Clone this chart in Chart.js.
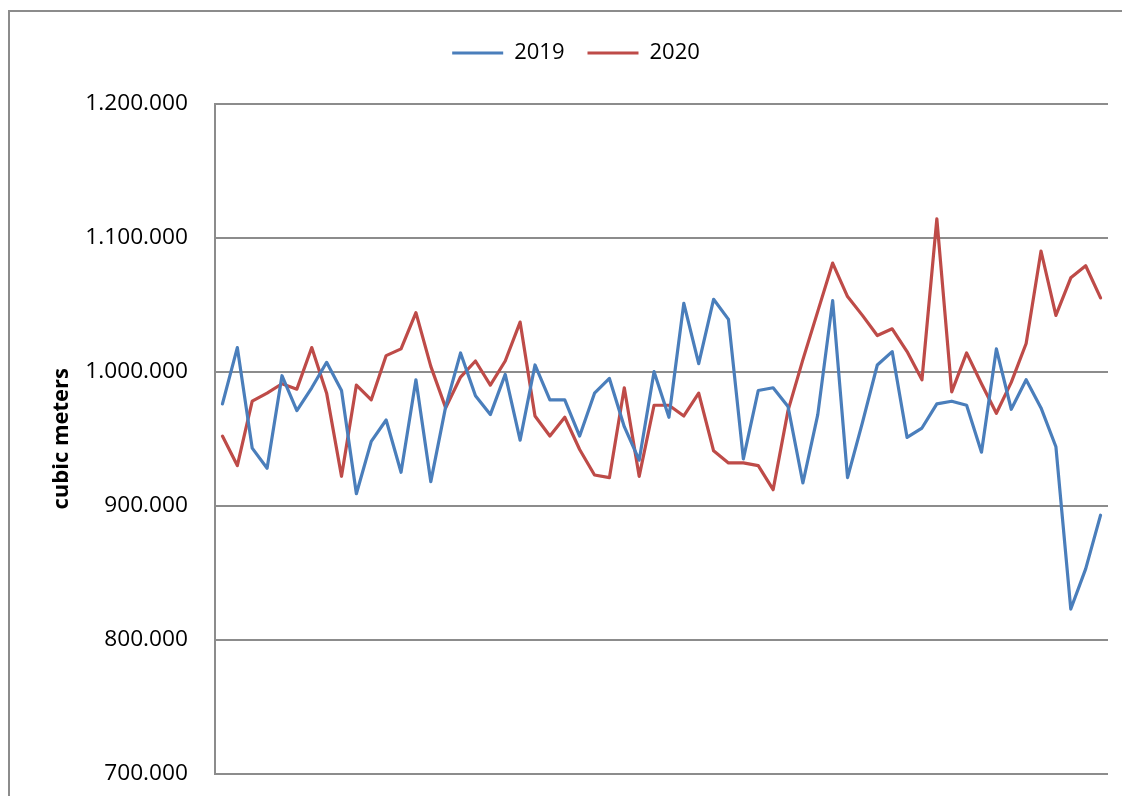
<!DOCTYPE html>
<html>
<head>
<meta charset="utf-8">
<script src="https://cdn.jsdelivr.net/npm/chart.js@4"></script>
<style>
  html, body { margin: 0; padding: 0; background: #ffffff; }
  #wrap { width: 1122px; height: 796px; position: relative; }
</style>
</head>
<body>
<div id="wrap"><canvas id="c" width="1122" height="796"></canvas></div>
<script>
const categories = ['1','2','3','4','5','6','7','8','9','10','11','12','13','14','15','16','17','18','19','20',
  '21','22','23','24','25','26','27','28','29','30','31','32','33','34','35','36','37','38','39','40',
  '41','42','43','44','45','46','47','48','49','50','51','52','53','54','55','56','57','58','59','60'];

const series2019 = [976000,1018000,943000,928000,997000,971000,988000,1007000,986000,909000,
  948000,964000,925000,994000,918000,974000,1014000,982000,968000,998000,
  949000,1005000,979000,979000,952000,984000,995000,959000,934000,1000000,
  966000,1051000,1006000,1054000,1039000,935000,986000,988000,974000,917000,
  968000,1053000,921000,962000,1005000,1015000,951000,958000,976000,978000,
  975000,940000,1017000,972000,994000,973000,944000,823000,853000,893000];

const series2020 = [952000,930000,978000,984000,991000,987000,1018000,984000,922000,990000,
  979000,1012000,1017000,1044000,1004000,973000,996000,1008000,990000,1008000,
  1037000,967000,952000,966000,942000,923000,921000,988000,922000,975000,
  975000,967000,984000,941000,932000,932000,930000,912000,971000,1009000,
  1045000,1081000,1056000,1042000,1027000,1032000,1015000,994000,1114000,985000,
  1014000,991000,969000,992000,1021000,1090000,1042000,1070000,1079000,1055000];

const seriesNames = ['2019', '2020'];
const yTicks = [700000, 800000, 900000, 1000000, 1100000, 1200000];
const yTitle = 'cubic meters';

function fmt(v) {
  return String(Math.round(v)).replace(/\B(?=(\d{3})+(?!\d))/g, '.');
}

const FONT = "'Open Sans', 'Noto Sans', sans-serif";
const GRID = '#8c8c8c';

const frame = {
  id: 'frame',
  beforeDraw(chart) {
    const ctx = chart.ctx;
    ctx.save();
    ctx.strokeStyle = GRID;
    ctx.lineWidth = 2;
    ctx.strokeRect(9, 11, 1300, 1000);
    ctx.restore();
  }
};

new Chart(document.getElementById('c'), {
  type: 'line',
  data: {
    labels: categories,
    datasets: [
      { label: seriesNames[0], data: series2019, borderColor: '#4a7ebb', backgroundColor: '#4a7ebb',
        borderWidth: 3.2, pointRadius: 0, tension: 0, fill: false, borderJoinStyle: 'round', borderCapStyle: 'round' },
      { label: seriesNames[1], data: series2020, borderColor: '#be4b48', backgroundColor: '#be4b48',
        borderWidth: 3.2, pointRadius: 0, tension: 0, fill: false, borderJoinStyle: 'round', borderCapStyle: 'round' }
    ]
  },
  options: {
    responsive: false,
    animation: false,
    layout: { padding: { left: 44, right: 14, top: 19, bottom: 0 } },
    plugins: {
      legend: {
        display: true,
        position: 'top',
        labels: {
          usePointStyle: true,
          pointStyle: 'line',
          pointStyleWidth: 51,
          padding: 23,
          color: '#000000',
          font: { family: FONT, size: 22 }
        }
      },
      title: {
        display: true,
        text: ' ',
        weight: 500,
        font: { size: 10, lineHeight: 1 },
        padding: { top: 19.5, bottom: 0 }
      },
      tooltip: { enabled: false }
    },
    scales: {
      x: {
        type: 'category',
        offset: true,
        display: true,
        ticks: { display: false },
        grid: { display: false },
        border: { display: false },
        afterFit(s) { s.height = 22; }
      },
      y: {
        min: yTicks[0],
        max: yTicks[yTicks.length - 1],
        afterFit(s) { s.width = 171; },
        afterBuildTicks(s) { s.ticks = yTicks.map(v => ({ value: v })); },
        ticks: {
          padding: 0,
          color: '#000000',
          font: { family: FONT, size: 22.7 },
          callback: (v) => fmt(v)
        },
        grid: { color: GRID, lineWidth: 2, drawTicks: true, tickLength: 27, tickColor: 'rgba(0,0,0,0)' },
        border: { display: true, color: GRID, width: 2 },
        title: {
          display: true,
          text: yTitle,
          color: '#000000',
          font: { family: FONT, size: 22, weight: 'bold' },
          padding: { top: 5, bottom: 0 }
        }
      }
    }
  },
  plugins: [frame]
});
</script>
</body>
</html>
